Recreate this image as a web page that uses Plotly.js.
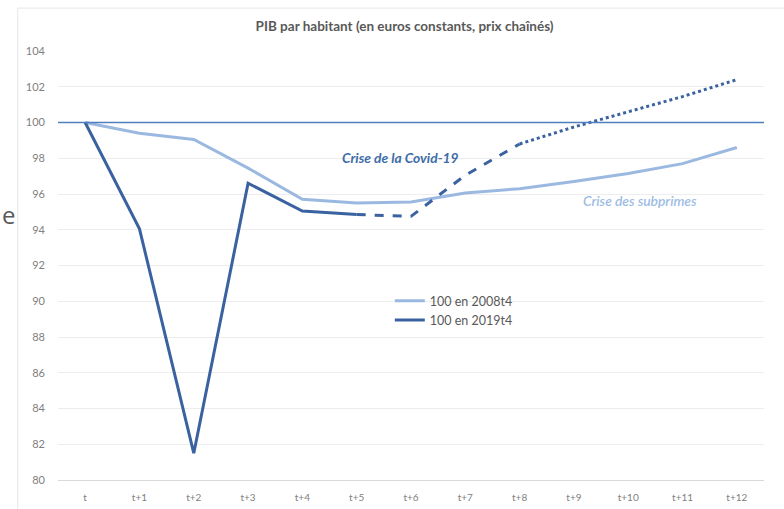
<!DOCTYPE html>
<html>
<head>
<meta charset="utf-8">
<script src="https://cdn.plot.ly/plotly-3.0.1.min.js"></script>
<style>html,body{margin:0;padding:0;background:#fff;}#chart{width:784px;height:509px;}</style>
</head>
<body>
<div id="chart"></div>
<script>
const categories = ["t","t+1","t+2","t+3","t+4","t+5","t+6","t+7","t+8","t+9","t+10","t+11","t+12"];
const subprimes2008 = [100, 99.4, 99.05, 97.45, 95.7, 95.5, 95.55, 96.05, 96.3, 96.7, 97.15, 97.7, 98.6];
const covid2019 = [100, 94.05, 81.5, 96.6, 95.05, 94.85, 94.75, 97.05, 98.8, 99.75, 100.6, 101.45, 102.4];
const covidObservedEnd = 5;   // solid up to t+5
const covidDashedEnd = 8;     // dashed up to t+8, dotted afterwards
const baseLevel = 100;
const legendNames = ["100 en 2008t4", "100 en 2019t4"];
const yTicks = [80,82,84,86,88,90,92,94,96,98,100,102,104];

const light = "#9BB9E0";
const dark = "#3A62A0";

function segment(arr, from, to) {
  return arr.map((v, i) => (i >= from && i <= to) ? v : null);
}

const traces = [
  {x: categories, y: subprimes2008, type: "scatter", mode: "lines", name: legendNames[0],
   line: {color: light, width: 3}},
  {x: categories, y: segment(covid2019, 0, covidObservedEnd), type: "scatter", mode: "lines", name: legendNames[1],
   line: {color: dark, width: 3}},
  {x: categories, y: segment(covid2019, covidObservedEnd, covidDashedEnd), type: "scatter", mode: "lines",
   showlegend: false, line: {color: dark, width: 3, dash: "dash"}},
  {x: categories, y: segment(covid2019, covidDashedEnd, categories.length - 1), type: "scatter", mode: "lines",
   showlegend: false, line: {color: dark, width: 3, dash: "dot"}}
];

const layout = {
  width: 784, height: 509,
  margin: {l: 58, r: 20, t: 51, b: 29},
  paper_bgcolor: "#ffffff", plot_bgcolor: "#ffffff",
  font: {family: "Lato, 'Open Sans', sans-serif", color: "#7f7f7f"},
  title: {text: "<b>PIB par habitant (en euros constants, prix chaînés)</b>",
          font: {size: 13.5, color: "#595959", family: "Lato, 'Open Sans', sans-serif"},
          x: 0.516, xanchor: "center", y: 1 - 26/509, yanchor: "middle", yref: "container"},
  xaxis: {type: "category", range: [-0.5, 12.5], showgrid: false, zeroline: false,
          showline: true, linecolor: "#D9D9D9", linewidth: 1,
          ticks: "", tickfont: {size: 10, color: "#808080"}, ticklabelstandoff: 8, fixedrange: true},
  yaxis: {range: [80, 104], tickvals: yTicks, showgrid: true, gridcolor: "#EDEDED", gridwidth: 1,
          zeroline: false, showline: false, ticks: "", tickfont: {size: 11, color: "#808080"},
          ticklabelstandoff: 12, fixedrange: true},
  legend: {x: 0.47, y: 0.452, xanchor: "left", yanchor: "top", bgcolor: "rgba(0,0,0,0)",
           font: {size: 12.5, color: "#595959"}, itemwidth: 30, tracegroupgap: 0},
  shapes: [
    {type: "line", xref: "paper", x0: 0, x1: 1, yref: "y", y0: baseLevel, y1: baseLevel,
     line: {color: "#4F7DBE", width: 1.5}, layer: "above"},
    {type: "line", xref: "paper", yref: "paper", x0: -0.057, x1: 1.05, y0: 1.1, y1: 1.1,
     line: {color: "#E6E6E6", width: 1}},
    {type: "line", xref: "paper", yref: "paper", x0: -0.057, x1: -0.057, y0: -0.1, y1: 1.1,
     line: {color: "#E6E6E6", width: 1}}
  ],
  annotations: [
    {text: "<b><i>Crise de la Covid-19</i></b>", xref: "x", yref: "y", x: 5.8, y: 98.07,
     showarrow: false, font: {size: 13.8, color: "#3E6CA8"}},
    {text: "<i>Crise des subprimes</i>", xref: "x", yref: "y", x: 10.22, y: 95.66,
     showarrow: false, font: {size: 13.8, color: "#9DBCE3", weight: 600}},
    {text: "e", xref: "paper", yref: "paper", x: -0.082, y: 0.62, xanchor: "left", yanchor: "middle",
     showarrow: false, font: {size: 24, color: "#595959", family: "'Open Sans', sans-serif"}}
  ]
};

Plotly.newPlot("chart", traces, layout, {displayModeBar: false, staticPlot: true});
</script>
</body>
</html>
